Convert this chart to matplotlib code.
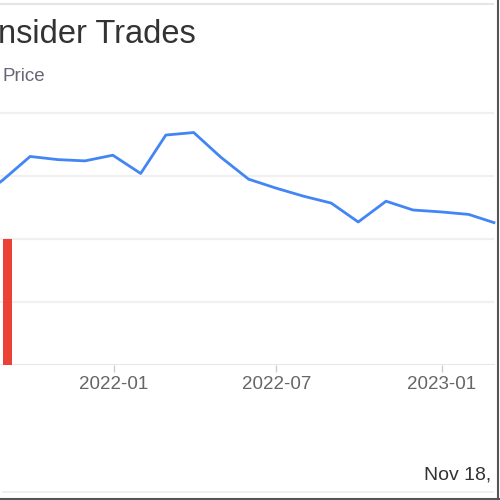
import matplotlib
matplotlib.use("Agg")
import matplotlib.pyplot as plt
import numpy as np
from matplotlib.lines import Line2D

# ---- data ----
price_dates = ["2021-07-31", "2021-08-31", "2021-09-30", "2021-10-31", "2021-11-30",
               "2021-12-31", "2022-01-31", "2022-02-28", "2022-03-31", "2022-04-30",
               "2022-05-31", "2022-06-30", "2022-07-31", "2022-08-31", "2022-09-30",
               "2022-10-31", "2022-11-30", "2022-12-31", "2023-01-31", "2023-02-28"]
price_values = [26.0, 29.4, 33.1, 32.6, 32.4, 33.3, 30.4, 36.5, 36.9, 33.0,
                29.5, 28.1, 26.8, 25.7, 22.7, 26.0, 24.6, 24.3, 23.9, 22.6]
trade_dates = ["2021-09-05"]
trade_values = [20.0]
tick_dates = ["2022-01-01", "2022-07-01", "2023-01-01"]
tick_labels = ["2022-01", "2022-07", "2023-01"]
grid_values = [0, 10, 20, 30, 40]
title_text = "Insider Trades"
subtitle_text = "Price"
footer_text = "Nov 18,"

plt.rcParams['font.family'] = ['Liberation Sans', 'DejaVu Sans']

fig = plt.figure(figsize=(5, 5), dpi=100)
W, H = 500.0, 500.0
ax = fig.add_axes([0.0, (H - 365) / H, 498 / W, (365 - 90) / H])

pd_ = np.array(price_dates, dtype="datetime64[D]")
td = np.array(trade_dates, dtype="datetime64[D]")

# gridlines
for g in grid_values[1:]:
    ax.axhline(g, xmin=0, xmax=493 / 498, color="#f0f0f0", lw=1.6, zorder=0)
ax.axhline(0, xmin=0, xmax=493 / 498, color="#e3e3e6", lw=2.0, zorder=1)

ax.bar(td, trade_values, width=10, color="#ea4335", zorder=2, align="center")
ax.plot(pd_, price_values, color="#4285f4", lw=2.0, zorder=3, solid_joinstyle="round")

ax.set_xlim(np.datetime64("2021-08-27T12"), np.datetime64("2023-03-04T12"))
ax.set_ylim(0, (365 - 90) / 63 * 10)

ax.set_xticks(np.array(tick_dates, dtype="datetime64[D]"))
ax.set_xticklabels(tick_labels)
ax.tick_params(axis="x", length=5, width=1, color="#cccccc", labelsize=13.5,
               labelcolor="#666666", pad=3)
ax.set_yticks([])
for s in ax.spines.values():
    s.set_visible(False)
ax.patch.set_alpha(0)

# texts
fig.text(-11 / W, 1 - 43 / H, title_text, fontsize=23.5, color="#333333",
         ha="left", va="baseline")
fig.text(3 / W, 1 - 81 / H, subtitle_text, fontsize=13.5, color="#666677",
         ha="left", va="baseline")
fig.text(491 / W, 1 - 480 / H, footer_text, fontsize=14, color="#333333",
         ha="right", va="baseline")

# frame lines
fig.add_artist(Line2D([0, 493 / W], [1 - 4 / H, 1 - 4 / H], color="#e6e6e6", lw=1.5))
fig.add_artist(Line2D([3 / W, 493 / W], [1 - 492 / H, 1 - 492 / H], color="#eeeeee", lw=1.2))
fig.add_artist(Line2D([0, 1], [1 - 498.5 / H, 1 - 498.5 / H], color="#555555", lw=1.5))
fig.add_artist(Line2D([497.5 / W, 497.5 / W], [0, 1], color="#555555", lw=1.5))

fig.savefig("out.png", dpi=100)
